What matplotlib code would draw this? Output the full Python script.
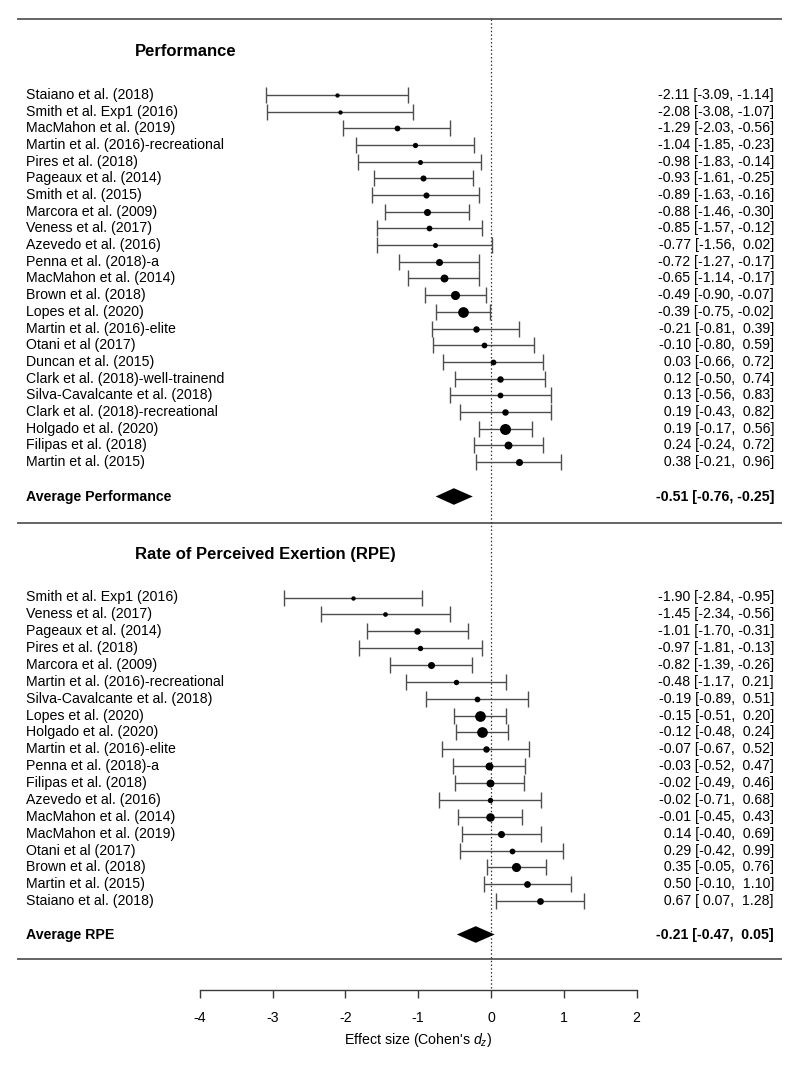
import matplotlib
matplotlib.use("Agg")
import matplotlib.pyplot as plt
from matplotlib.transforms import blended_transform_factory

plt.rcParams['font.family'] = ['Liberation Sans', 'DejaVu Sans']
plt.rcParams['mathtext.fontset'] = 'custom'
plt.rcParams['mathtext.rm'] = 'Liberation Sans'
plt.rcParams['mathtext.it'] = 'Liberation Sans:italic'

# ---------------- data ----------------
perf_studies = ["Staiano et al. (2018)", "Smith et al. Exp1 (2016)", "MacMahon et al. (2019)",
                "Martin et al. (2016)-recreational", "Pires et al. (2018)", "Pageaux et al. (2014)",
                "Smith et al. (2015)", "Marcora et al. (2009)", "Veness et al. (2017)",
                "Azevedo et al. (2016)", "Penna et al. (2018)-a", "MacMahon et al. (2014)",
                "Brown et al. (2018)", "Lopes et al. (2020)", "Martin et al. (2016)-elite",
                "Otani et al (2017)", "Duncan et al. (2015)", "Clark et al. (2018)-well-trainend",
                "Silva-Cavalcante et al. (2018)", "Clark et al. (2018)-recreational",
                "Holgado et al. (2020)", "Filipas et al. (2018)", "Martin et al. (2015)"]
perf_est = [-2.11, -2.08, -1.29, -1.04, -0.98, -0.93, -0.89, -0.88, -0.85, -0.77, -0.72, -0.65,
            -0.49, -0.39, -0.21, -0.10, 0.03, 0.12, 0.13, 0.19, 0.19, 0.24, 0.38]
perf_lo = [-3.09, -3.08, -2.03, -1.85, -1.83, -1.61, -1.63, -1.46, -1.57, -1.56, -1.27, -1.14,
           -0.90, -0.75, -0.81, -0.80, -0.66, -0.50, -0.56, -0.43, -0.17, -0.24, -0.21]
perf_hi = [-1.14, -1.07, -0.56, -0.23, -0.14, -0.25, -0.16, -0.30, -0.12, 0.02, -0.17, -0.17,
           -0.07, -0.02, 0.39, 0.59, 0.72, 0.74, 0.83, 0.82, 0.56, 0.72, 0.96]
perf_weights = [1.8, 1.8, 3.3, 2.8, 2.5, 3.6, 3.6, 4.6, 3.3, 2.5, 4.6, 5.5,
                6.7, 8.3, 4.0, 3.3, 3.3, 4.0, 3.3, 4.0, 8.6, 5.5, 4.6]
perf_summary = [-0.51, -0.76, -0.25]

rpe_studies = ["Smith et al. Exp1 (2016)", "Veness et al. (2017)", "Pageaux et al. (2014)",
               "Pires et al. (2018)", "Marcora et al. (2009)", "Martin et al. (2016)-recreational",
               "Silva-Cavalcante et al. (2018)", "Lopes et al. (2020)", "Holgado et al. (2020)",
               "Martin et al. (2016)-elite", "Penna et al. (2018)-a", "Filipas et al. (2018)",
               "Azevedo et al. (2016)", "MacMahon et al. (2014)", "MacMahon et al. (2019)",
               "Otani et al (2017)", "Brown et al. (2018)", "Martin et al. (2015)",
               "Staiano et al. (2018)"]
rpe_est = [-1.90, -1.45, -1.01, -0.97, -0.82, -0.48, -0.19, -0.15, -0.12, -0.07, -0.03, -0.02,
           -0.02, -0.01, 0.14, 0.29, 0.35, 0.50, 0.67]
rpe_lo = [-2.84, -2.34, -1.70, -1.81, -1.39, -1.17, -0.89, -0.51, -0.48, -0.67, -0.52, -0.49,
          -0.71, -0.45, -0.40, -0.42, -0.05, -0.10, 0.07]
rpe_hi = [-0.95, -0.56, -0.31, -0.13, -0.26, 0.21, 0.51, 0.20, 0.24, 0.52, 0.47, 0.46,
          0.68, 0.43, 0.69, 0.99, 0.76, 1.10, 1.28]
rpe_weights = [1.9, 2.2, 4.0, 2.9, 4.6, 2.9, 3.3, 8.3, 8.3, 4.0, 5.5, 5.5,
               2.9, 6.1, 4.6, 3.3, 6.7, 4.3, 4.3]
rpe_summary = [-0.21, -0.47, 0.05]

sections = [
    dict(title="Performance", avg="Average Performance", studies=perf_studies,
         est=perf_est, lo=perf_lo, hi=perf_hi, w=perf_weights, summ=perf_summary,
         y0=95.0, step=16.68, ysum=496.5),
    dict(title="Rate of Perceived Exertion (RPE)", avg="Average RPE", studies=rpe_studies,
         est=rpe_est, lo=rpe_lo, hi=rpe_hi, w=rpe_weights, summ=rpe_summary,
         y0=597.5, step=16.87, ysum=934.5),
]

xticks = [-4, -3, -2, -1, 0, 1, 2]

# ---------------- figure ----------------
W, H, DPI = 800, 1065, 100
fig = plt.figure(figsize=(W / DPI, H / DPI), dpi=DPI)
ax = fig.add_axes([0, 0, 1, 1])
X0PX, PXU = 491.0, 72.8  # pixel of x=0, pixels per unit
ax.set_xlim(-X0PX / PXU, (W - X0PX) / PXU)
ax.set_ylim(H, 0)

def px2x(p):
    return (p - X0PX) / PXU

trans = blended_transform_factory(ax.transAxes, ax.transData)
FS = 10.2
LINEC = '#4d4d4d'

def fmt_col(vals):
    s = ["{:.2f}".format(v) for v in vals]
    wd = max(len(t) for t in s)
    return [t.rjust(wd) for t in s]

wmin, wmax = min(perf_weights + rpe_weights), max(perf_weights + rpe_weights)

for sec in sections:
    n = len(sec['studies'])
    ys = [sec['y0'] + i * sec['step'] for i in range(n)]
    allest = sec['est'] + [sec['summ'][0]]
    alllo = sec['lo'] + [sec['summ'][1]]
    allhi = sec['hi'] + [sec['summ'][2]]
    e_s, l_s, h_s = fmt_col(allest), fmt_col(alllo), fmt_col(allhi)
    labels = ["{} [{}, {}]".format(a, b, c) for a, b, c in zip(e_s, l_s, h_s)]

    ax.text(135 / W, sec['y0'] - 43, sec['title'], transform=trans, fontsize=12,
            fontweight='bold', ha='left', va='center')
    for i in range(n):
        y = ys[i]
        ax.errorbar(sec['est'][i], y,
                    xerr=[[sec['est'][i] - sec['lo'][i]], [sec['hi'][i] - sec['est'][i]]],
                    fmt='none', ecolor=LINEC, elinewidth=1.0, capsize=5.5, capthick=1.0,
                    zorder=2)
        d_px = 4.3 + (sec['w'][i] - wmin) / (wmax - wmin) * 6.7
        ax.plot(sec['est'][i], y, 'o', color='black', markersize=d_px * 0.72,
                markeredgewidth=0, zorder=3)
        ax.text(25.7 / W, y, sec['studies'][i], transform=trans, fontsize=FS,
                ha='left', va='center')
        ax.text(774 / W, y, labels[i], transform=trans, fontsize=FS,
                ha='right', va='center')
    ysum = sec['ysum']
    est, lo, hi = sec['summ']
    ax.fill([lo, est, hi, est], [ysum, ysum - 8.3, ysum, ysum + 8.3], color='black',
            lw=0, zorder=3)
    ax.text(25.7 / W, ysum, sec['avg'], transform=trans, fontsize=FS,
            fontweight='bold', ha='left', va='center')
    ax.text(774 / W, ysum, labels[-1], transform=trans, fontsize=FS,
            fontweight='bold', ha='right', va='center')

for yl in [19.3, 523.0, 959.0]:
    ax.hlines(yl, px2x(16.7), px2x(782), color='#3a3a3a', lw=1.1, zorder=1)

ax.vlines(0, 19.3, 990, color='#333333', lw=0.9, linestyles=(0, (1.2, 1.8)), zorder=1)

for s in ['top', 'left', 'right']:
    ax.spines[s].set_visible(False)
ax.spines['bottom'].set_position(('data', 990))
ax.spines['bottom'].set_bounds(xticks[0], xticks[-1])
ax.spines['bottom'].set_color('#3a3a3a')
ax.spines['bottom'].set_linewidth(1.0)
ax.set_xticks(xticks)
ax.set_xticklabels([str(t) for t in xticks])
ax.tick_params(axis='x', direction='out', length=6, width=1.0, color='#3a3a3a',
               labelsize=FS, pad=9)
ax.set_yticks([])
ax.text(-1, 1040, "Effect size (Cohen's $d_z$)", fontsize=FS, ha='center', va='center')

fig.savefig("out.png", dpi=DPI)
